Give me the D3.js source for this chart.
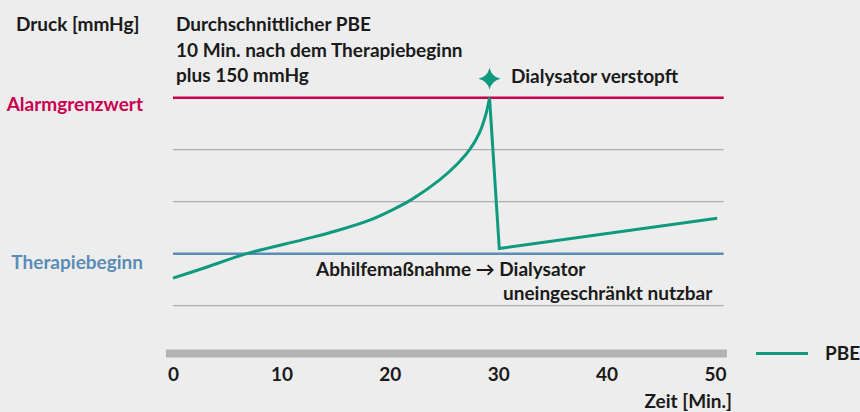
<!DOCTYPE html>
<html>
<head>
<meta charset="utf-8">
<script src="https://cdn.jsdelivr.net/npm/d3@7"></script>
<style>
  body { margin: 0; background: #ededed; }
  svg { display: block; font-family: Lato, sans-serif; }
</style>
</head>
<body>
<div class="chart"></div>
<script>
// PBE curve, time in minutes, pressure in gridline steps (0 = Therapiebeginn, 3 = Alarmgrenzwert)
const riseTime = [0, 2.8, 6.8, 12.0, 15.1, 18.2, 20.2, 22.0, 24.6, 26.2, 27.4, 28.3, 28.9, 29.2];
const risePbe  = [-0.47, -0.28, 0, 0.27, 0.44, 0.65, 0.84, 1.04, 1.42, 1.72, 2.01, 2.34, 2.71, 3.0];
const dropTime = [29.2, 30.1, 50.2];
const dropPbe  = [3.0, 0.10, 0.68];

// horizontal reference lines
const levels = [-1, 0, 1, 2, 3];
const xTicks = [0, 10, 20, 30, 40, 50];

const teal = "#0f9a80";
const red = "#c8004f";
const blue = "#5b8cb7";
const gridGray = "#b6acae";
const fontSize = 19;

const width = 860, height = 412;

const svg = d3.select(".chart").append("svg")
    .attr("width", width)
    .attr("height", height);

svg.append("rect").attr("width", width).attr("height", height).attr("fill", "#ededed");

const xScale = d3.scaleLinear().domain([0, 50]).range([173, 715]);
const yScale = d3.scaleLinear().domain([-1.92, 3]).range([353.5, 97.7]);

// reference lines
svg.selectAll(".level")
    .data(levels)
    .join("line")
    .attr("class", "level")
    .attr("x1", xScale(0))
    .attr("x2", xScale(50.8))
    .attr("y1", d => yScale(d))
    .attr("y2", d => yScale(d))
    .attr("stroke", d => d === 3 ? red : d === 0 ? blue : gridGray)
    .attr("stroke-width", d => (d === 3 || d === 0) ? 2.5 : 1.3);

// thick grey time bar
svg.append("line")
    .attr("x1", xScale(-0.65))
    .attr("x2", xScale(51.1))
    .attr("y1", yScale(-1.92))
    .attr("y2", yScale(-1.92))
    .attr("stroke", "#b3b3b3")
    .attr("stroke-width", 8);

// x axis labels
const xAxis = svg.append("g")
    .attr("transform", `translate(0,${yScale(-1.92)})`)
    .call(d3.axisBottom(xScale).tickValues(xTicks).tickSize(0).tickPadding(14));
xAxis.select(".domain").remove();
xAxis.selectAll("text")
    .attr("fill", "#1a1a1a")
    .style("font-size", fontSize + "px")
    .style("font-weight", 700)
    .style("font-family", "Lato, sans-serif");

// PBE line
const riseLine = d3.line()
    .x(d => xScale(d[0]))
    .y(d => yScale(d[1]))
    .curve(d3.curveCatmullRom.alpha(0.5));
const dropLine = d3.line()
    .x(d => xScale(d[0]))
    .y(d => yScale(d[1]));

svg.append("path")
    .datum(d3.zip(riseTime, risePbe))
    .attr("fill", "none")
    .attr("stroke", teal)
    .attr("stroke-width", 3)
    .attr("d", riseLine);

svg.append("path")
    .datum(d3.zip(dropTime, dropPbe))
    .attr("fill", "none")
    .attr("stroke", teal)
    .attr("stroke-width", 3)
    .attr("stroke-linejoin", "miter")
    .attr("d", dropLine);

// four pointed star above the peak
function starPath(r) {
    const k = r * 0.18;
    const p = d3.path();
    p.moveTo(0, -r);
    p.quadraticCurveTo(k, -k, r, 0);
    p.quadraticCurveTo(k, k, 0, r);
    p.quadraticCurveTo(-k, k, -r, 0);
    p.quadraticCurveTo(-k, -k, 0, -r);
    p.closePath();
    return p.toString();
}
svg.append("path")
    .attr("transform", `translate(${xScale(29.2)},${yScale(3) - 19})`)
    .attr("d", starPath(11))
    .attr("fill", teal);

// texts
function addText(x, y, str, opts = {}) {
    return svg.append("text")
        .attr("x", x)
        .attr("y", y)
        .attr("fill", opts.fill || "#1a1a1a")
        .attr("text-anchor", opts.anchor || "start")
        .style("font-size", fontSize + "px")
        .style("font-weight", 700)
        .text(str);
}

addText(16, 31, "Druck [mmHg]");
addText(176, 31, "Durchschnittlicher PBE");
addText(176, 57, "10 Min. nach dem Therapiebeginn");
addText(176, 82, "plus 150 mmHg");
addText(143, 111, "Alarmgrenzwert", {anchor: "end", fill: red});
addText(143, 269, "Therapiebeginn", {anchor: "end", fill: blue});
addText(511, 83, "Dialysator verstopft");
addText(316, 276, "Abhilfemaßnahme \u2192 Dialysator");
addText(503, 300, "uneingeschränkt nutzbar");
addText(732, 408, "Zeit [Min.]", {anchor: "end"});

// legend
svg.append("line")
    .attr("x1", 756).attr("x2", 808)
    .attr("y1", 353.5).attr("y2", 353.5)
    .attr("stroke", teal).attr("stroke-width", 3);
addText(825, 360, "PBE");
</script>
</body>
</html>
